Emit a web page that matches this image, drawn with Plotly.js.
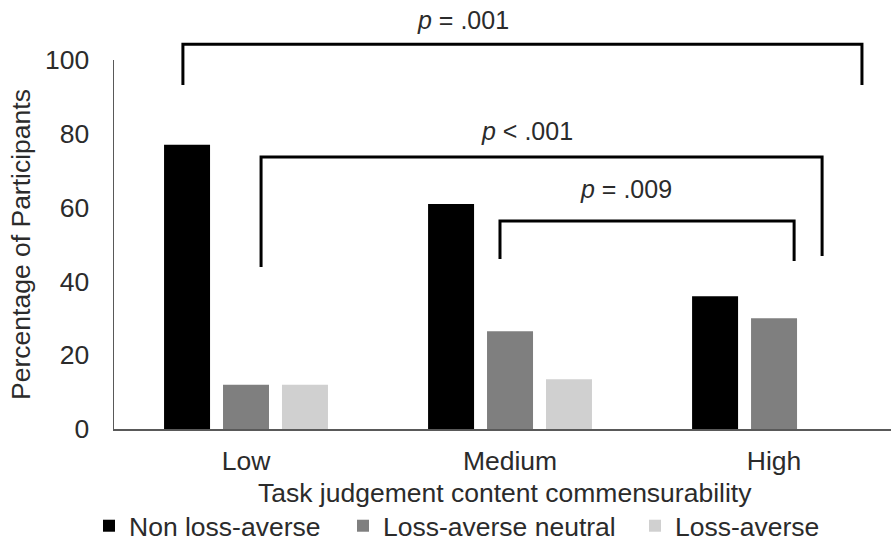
<!DOCTYPE html>
<html>
<head>
<meta charset="utf-8">
<script src="https://cdn.plot.ly/plotly-3.0.1.min.js"></script>
<style>html,body{margin:0;padding:0;background:#fff;}#chart{width:891px;height:542px;}</style>
</head>
<body>
<div id="chart"></div>
<script>
// Data
var categories = ["Low", "Medium", "High"];
var seriesNames = ["Non loss-averse", "Loss-averse neutral", "Loss-averse"];
var nonLossAverse = [77, 61, 36];
var lossAverseNeutral = [12, 26.5, 30];
var lossAverse = [12, 13.5, 0];
var yTicks = [0, 20, 40, 60, 80, 100];
var xTitle = "Task judgement content commensurability";
var yTitle = "Percentage of Participants";

// Significance brackets: [x start, x end, y top, left leg bottom, right leg bottom] (y in % of axis)
var bracketLabels = ["<i>p</i> = .001", "<i>p</i> < .001", "<i>p</i> = .009"];
var bracketX0 = [-0.239, 0.057, 0.962];
var bracketX1 = [2.333, 2.182, 2.076];
var bracketTop = [104.3, 73.7, 56.4];
var bracketLeftEnd = [93.2, 43.9, 46.1];
var bracketRightEnd = [93.2, 46.9, 45.5];
var labelX = [0.822, 1.064, 1.439];
var labelY = [110.8, 80.8, 65.0];

var colors = ["#000000", "#7f7f7f", "#d0d0d0"];
var values = [nonLossAverse, lossAverseNeutral, lossAverse];
var legendWidths = [209, 247, 150];

var FONT = "Liberation Sans, Arial, sans-serif";
var TXT = "#2b2b2b";
var FS = 26.5;

var traces = values.map(function (v, i) {
  return {
    type: "bar",
    name: seriesNames[i],
    x: categories,
    y: v,
    marker: { color: colors[i], line: { width: 0 } },
    legendwidth: legendWidths[i],
    hoverinfo: "skip"
  };
});

var shapes = [];
var annotations = [];
for (var k = 0; k < bracketX0.length; k++) {
  var path = "M" + bracketX0[k] + "," + (bracketLeftEnd[k] / 100) +
             " L" + bracketX0[k] + "," + (bracketTop[k] / 100) +
             " L" + bracketX1[k] + "," + (bracketTop[k] / 100) +
             " L" + bracketX1[k] + "," + (bracketRightEnd[k] / 100);
  shapes.push({
    type: "path", xref: "x", yref: "paper", path: path,
    line: { color: "#000000", width: 3 }
  });
  annotations.push({
    xref: "x", yref: "paper", x: labelX[k], y: labelY[k] / 100,
    text: bracketLabels[k], showarrow: false,
    font: { family: FONT, size: 25, color: TXT },
    xanchor: "center", yanchor: "middle"
  });
}
// x-axis title placed as annotation for precise positioning
annotations.push({
  xref: "paper", yref: "paper", x: (505 - 114) / 777, y: (429 - 493) / 369,
  text: xTitle, showarrow: false,
  font: { family: FONT, size: FS, color: TXT },
  xanchor: "center", yanchor: "middle"
});

var layout = {
  width: 891, height: 542,
  margin: { l: 114, r: 0, t: 60, b: 113, pad: 0, autoexpand: false },
  paper_bgcolor: "#ffffff", plot_bgcolor: "#ffffff",
  barmode: "group", bargap: 0.33, bargroupgap: 0.22,
  showlegend: true,
  legend: {
    orientation: "h", x: 89 / 891, y: 1 - 502 / 542, xref: "container", yref: "container",
    xanchor: "left", yanchor: "top",
    font: { family: FONT, size: FS, color: TXT },
    traceorder: "normal"
  },
  xaxis: {
    type: "category",
    range: [-0.5, 2.443],
    automargin: false,
    showline: true, linecolor: "#595959", linewidth: 2,
    showgrid: false, zeroline: false, ticks: "",
    tickfont: { family: FONT, size: FS, color: TXT },
    ticklabelstandoff: 7,
    fixedrange: true
  },
  yaxis: {
    range: [0, 100],
    automargin: false,
    tickvals: yTicks,
    ticktext: yTicks.map(String),
    showline: true, linecolor: "#595959", linewidth: 1.5,
    showgrid: false, zeroline: false, ticks: "",
    tickfont: { family: FONT, size: FS, color: TXT },
    ticklabelstandoff: 18,
    title: { text: yTitle, font: { family: FONT, size: FS, color: TXT }, standoff: 6 },
    fixedrange: true
  },
  shapes: shapes,
  annotations: annotations
};

Plotly.newPlot("chart", traces, layout, { displayModeBar: false, staticPlot: true });
</script>
</body>
</html>
